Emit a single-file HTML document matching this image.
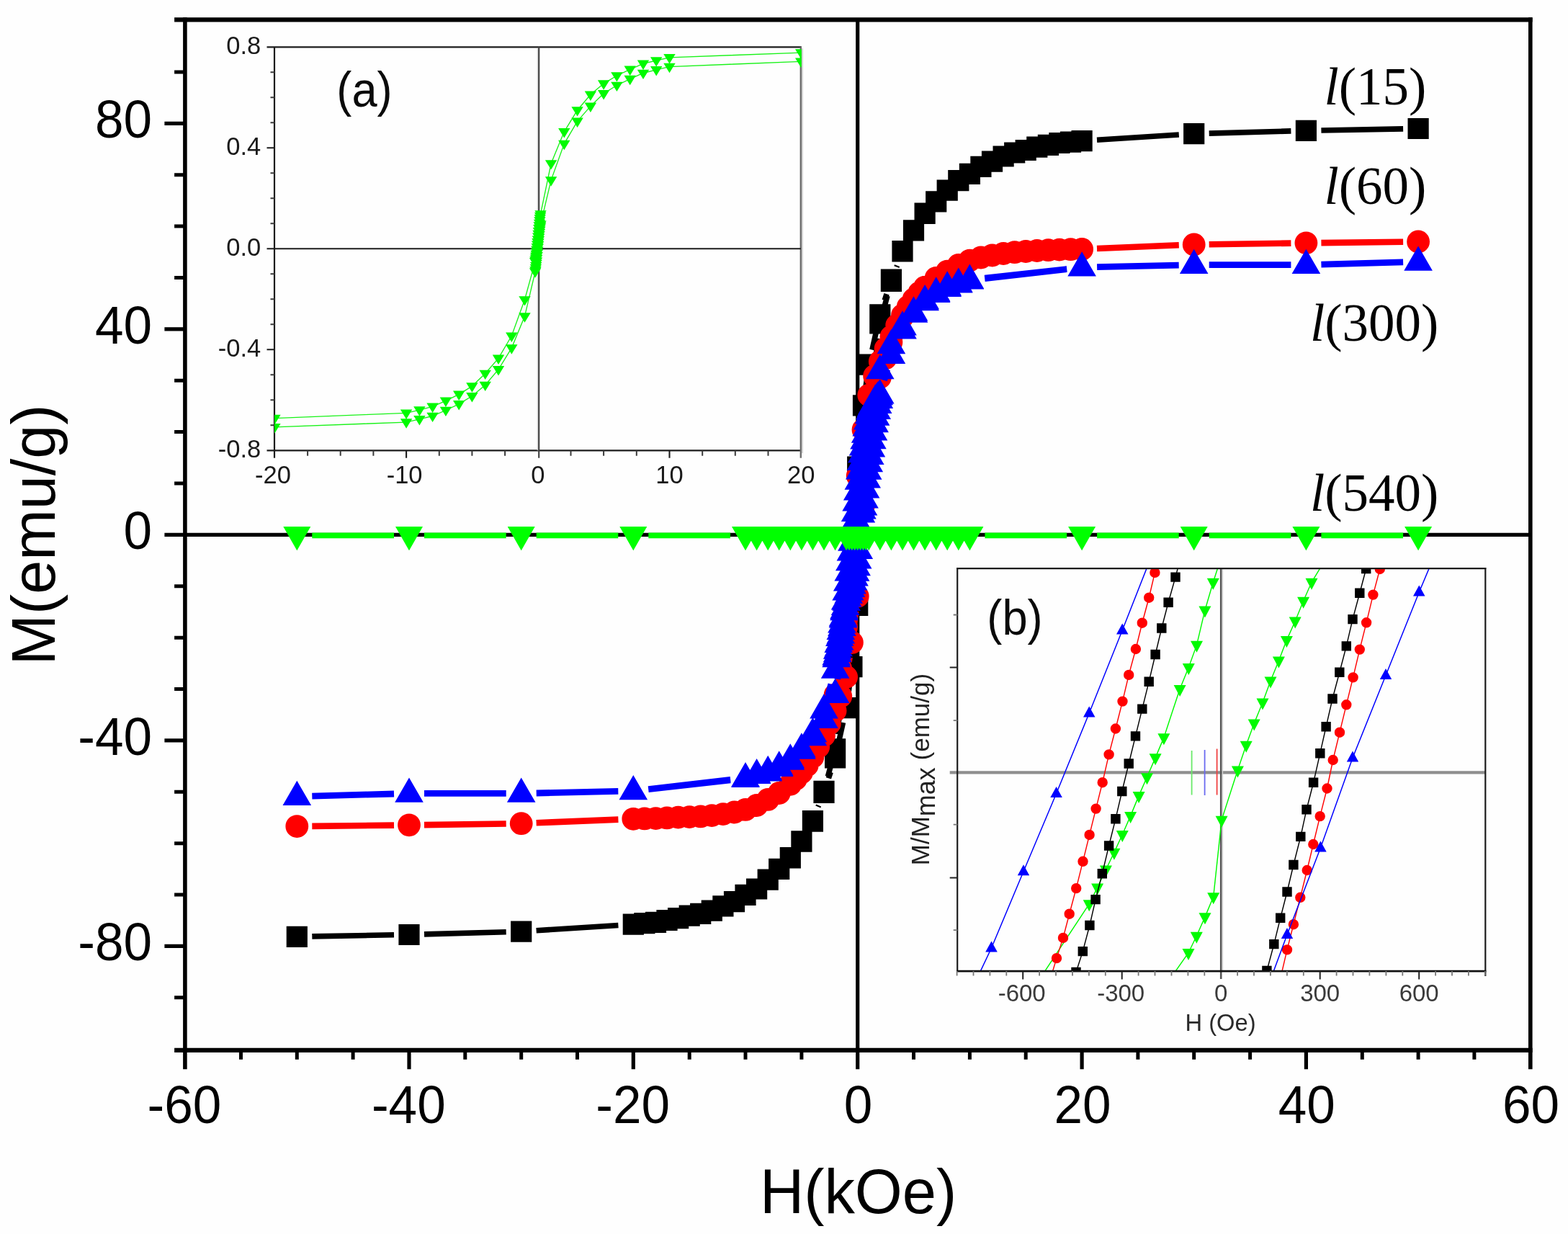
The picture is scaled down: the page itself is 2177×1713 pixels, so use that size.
<!DOCTYPE html>
<html lang="en"><head><meta charset="utf-8"><title>M-H hysteresis loops</title>
<style>html,body{margin:0;padding:0;background:#fff;}body{width:2177px;height:1713px;overflow:hidden;}svg{display:block;filter:blur(0.6px);}</style>
</head><body>
<svg width="2177" height="1713" viewBox="0 0 2177 1713" role="img" aria-label="Magnetization M versus field H hysteresis loops">
<rect x="0" y="0" width="2177" height="1713" fill="#fefefe"/>
<g id="main-axes">
<line x1="242.1" y1="27.3" x2="2127.6" y2="27.3" stroke="#000" stroke-width="6.2"/>
<line x1="242.1" y1="1457.8" x2="2127.6" y2="1457.8" stroke="#000" stroke-width="6.2"/>
<line x1="256.9" y1="24.3" x2="256.9" y2="1484.3" stroke="#000" stroke-width="5.6"/>
<line x1="2124.8" y1="24.3" x2="2124.8" y2="1484.3" stroke="#000" stroke-width="5.6"/>
<line x1="1190.7" y1="27.3" x2="1190.7" y2="1484.3" stroke="#000" stroke-width="5.2"/>
<line x1="228.4" y1="742.4" x2="2124.8" y2="742.4" stroke="#000" stroke-width="5.4"/>
<path d="M228.4 1313.4L256.9 1313.4M228.4 1027.9L256.9 1027.9M228.4 456.9L256.9 456.9M228.4 171.4L256.9 171.4M568 1457.8L568 1484.3M879.3 1457.8L879.3 1484.3M1502.1 1457.8L1502.1 1484.3M1813.4 1457.8L1813.4 1484.3" fill="none" stroke="#000" stroke-width="5.2" stroke-linecap="butt"/>
<path d="M242.1 1384.8L256.9 1384.8M242.1 1242.1L256.9 1242.1M242.1 1170.7L256.9 1170.7M242.1 1099.3L256.9 1099.3M242.1 956.5L256.9 956.5M242.1 885.2L256.9 885.2M242.1 813.8L256.9 813.8M242.1 671L256.9 671M242.1 599.6L256.9 599.6M242.1 528.3L256.9 528.3M242.1 385.5L256.9 385.5M242.1 314.1L256.9 314.1M242.1 242.7L256.9 242.7M242.1 100L256.9 100M334.5 1457.8L334.5 1470.8M412.3 1457.8L412.3 1470.8M490.1 1457.8L490.1 1470.8M645.8 1457.8L645.8 1470.8M723.7 1457.8L723.7 1470.8M801.5 1457.8L801.5 1470.8M957.2 1457.8L957.2 1470.8M1035 1457.8L1035 1470.8M1112.9 1457.8L1112.9 1470.8M1268.5 1457.8L1268.5 1470.8M1346.4 1457.8L1346.4 1470.8M1424.2 1457.8L1424.2 1470.8M1579.9 1457.8L1579.9 1470.8M1657.7 1457.8L1657.7 1470.8M1735.6 1457.8L1735.6 1470.8M1891.3 1457.8L1891.3 1470.8M1969.1 1457.8L1969.1 1470.8M2046.9 1457.8L2046.9 1470.8" fill="none" stroke="#000" stroke-width="5.0" stroke-linecap="butt"/>
</g>
<g id="main-labels" fill="#000">
<text transform="translate(211 191) scale(0.967 1)" font-size="73.5" text-anchor="end" font-family="'Liberation Sans', sans-serif">80</text>
<text transform="translate(211 476.5) scale(0.967 1)" font-size="73.5" text-anchor="end" font-family="'Liberation Sans', sans-serif">40</text>
<text transform="translate(211 762) scale(0.967 1)" font-size="73.5" text-anchor="end" font-family="'Liberation Sans', sans-serif">0</text>
<text transform="translate(211 1047.5) scale(0.967 1)" font-size="73.5" text-anchor="end" font-family="'Liberation Sans', sans-serif">-40</text>
<text transform="translate(211 1333) scale(0.967 1)" font-size="73.5" text-anchor="end" font-family="'Liberation Sans', sans-serif">-80</text>
<text transform="translate(255.9 1559) scale(0.967 1)" font-size="73.5" text-anchor="middle" font-family="'Liberation Sans', sans-serif">-60</text>
<text transform="translate(567.3 1559) scale(0.967 1)" font-size="73.5" text-anchor="middle" font-family="'Liberation Sans', sans-serif">-40</text>
<text transform="translate(878.6 1559) scale(0.967 1)" font-size="73.5" text-anchor="middle" font-family="'Liberation Sans', sans-serif">-20</text>
<text transform="translate(1191.5 1559) scale(0.967 1)" font-size="73.5" text-anchor="middle" font-family="'Liberation Sans', sans-serif">0</text>
<text transform="translate(1502.9 1559) scale(0.967 1)" font-size="73.5" text-anchor="middle" font-family="'Liberation Sans', sans-serif">20</text>
<text transform="translate(1814.2 1559) scale(0.967 1)" font-size="73.5" text-anchor="middle" font-family="'Liberation Sans', sans-serif">40</text>
<text transform="translate(2125.6 1559) scale(0.967 1)" font-size="73.5" text-anchor="middle" font-family="'Liberation Sans', sans-serif">60</text>
<text transform="translate(1191.6 1683.8) scale(0.975 1)" font-size="87" text-anchor="middle" font-family="'Liberation Sans', sans-serif">H(kOe)</text>
<text transform="translate(75.6 742.5) rotate(-90)" font-size="84.6" text-anchor="middle" font-family="'Liberation Sans', sans-serif">M(emu/g)</text>
</g>
<g id="inset-a">
<line x1="370.5" y1="65.3" x2="1112.8" y2="65.3" stroke="#1c1c1c" stroke-width="2.2"/>
<line x1="370.5" y1="625.3" x2="1112.8" y2="625.3" stroke="#1c1c1c" stroke-width="2.2"/>
<line x1="381" y1="65.3" x2="381" y2="635.8" stroke="#1c1c1c" stroke-width="2.2"/>
<line x1="1111.8" y1="65.3" x2="1111.8" y2="635.8" stroke="#6e6e6e" stroke-width="2.4"/>
<line x1="1114" y1="67.3" x2="1114" y2="629.3" stroke="#c8c8c8" stroke-width="1.6"/>
<line x1="370.5" y1="345.2" x2="1111.8" y2="345.2" stroke="#1c1c1c" stroke-width="2.0"/>
<line x1="748.2" y1="65.3" x2="748.2" y2="635.8" stroke="#444" stroke-width="2.2"/>
<line x1="746.3" y1="67.3" x2="746.3" y2="625.3" stroke="#d4d4d4" stroke-width="1.2"/>
<path d="M370.5 485.2L381 485.2M370.5 205.2L381 205.2M564.1 625.3L564.1 635.8M929.5 625.3L929.5 635.8" fill="none" stroke="#1c1c1c" stroke-width="2.1" stroke-linecap="butt"/>
<path d="M375.5 590.2L381 590.2M375.5 555.2L381 555.2M375.5 520.2L381 520.2M375.5 450.2L381 450.2M375.5 415.2L381 415.2M375.5 380.2L381 380.2M375.5 310.2L381 310.2M375.5 275.2L381 275.2M375.5 240.2L381 240.2M375.5 170.2L381 170.2M375.5 135.2L381 135.2M375.5 100.2L381 100.2M427.1 625.3L427.1 632.8M472.7 625.3L472.7 632.8M518.4 625.3L518.4 632.8M609.8 625.3L609.8 632.8M655.4 625.3L655.4 632.8M701.1 625.3L701.1 632.8M792.5 625.3L792.5 632.8M838.1 625.3L838.1 632.8M883.8 625.3L883.8 632.8M975.2 625.3L975.2 632.8M1020.8 625.3L1020.8 632.8M1066.5 625.3L1066.5 632.8" fill="none" stroke="#3a3a3a" stroke-width="2.0" stroke-linecap="butt"/>
<text x="362.3" y="75.4" font-size="34.5" text-anchor="end" font-family="'Liberation Sans', sans-serif" fill="#1a1a1a">0.8</text>
<text x="362.3" y="215.4" font-size="34.5" text-anchor="end" font-family="'Liberation Sans', sans-serif" fill="#1a1a1a">0.4</text>
<text x="362.3" y="355.4" font-size="34.5" text-anchor="end" font-family="'Liberation Sans', sans-serif" fill="#1a1a1a">0.0</text>
<text x="362.3" y="495.4" font-size="34.5" text-anchor="end" font-family="'Liberation Sans', sans-serif" fill="#1a1a1a">-0.4</text>
<text x="362.3" y="635.4" font-size="34.5" text-anchor="end" font-family="'Liberation Sans', sans-serif" fill="#1a1a1a">-0.8</text>
<text x="378.9" y="671.3" font-size="34.5" text-anchor="middle" font-family="'Liberation Sans', sans-serif" fill="#1a1a1a">-20</text>
<text x="561.6" y="671.3" font-size="34.5" text-anchor="middle" font-family="'Liberation Sans', sans-serif" fill="#1a1a1a">-10</text>
<text x="746.8" y="671.3" font-size="34.5" text-anchor="middle" font-family="'Liberation Sans', sans-serif" fill="#1a1a1a">0</text>
<text x="929.5" y="671.3" font-size="34.5" text-anchor="middle" font-family="'Liberation Sans', sans-serif" fill="#1a1a1a">10</text>
<text x="1112.2" y="671.3" font-size="34.5" text-anchor="middle" font-family="'Liberation Sans', sans-serif" fill="#1a1a1a">20</text>
<text transform="translate(506 148) scale(0.93 1)" font-size="68" text-anchor="middle" fill="#0a0a0a" font-family="'Liberation Sans', sans-serif">(a)</text>
<clipPath id="clipA"><rect x="381" y="65.3" width="731.8" height="560"/></clipPath>
<g clip-path="url(#clipA)">
<polyline points="1112.2,73.1 929.5,79.8 911.2,84 893,88.4 874.7,96.4 856.4,105 838.1,116.1 819.9,131.3 801.6,153 783.3,182.8 765.1,227 750.5,297.1 750.1,299.8 749.7,302.8 749.4,306.1 749,309.5 748.6,313.1 748.3,316.9 747.9,320.7 747.5,324.6 747.2,328.4 746.8,332.2 746.4,335.8 746.1,339.3 745.7,342.8 745.3,346.2 745,349.5 744.6,352.6 744.2,355.6 743.9,358.3 743.5,360.8 743.1,362.9 728.5,416 710.3,466.3 692,497.4 673.7,518.5 655.4,536.1 637.2,547.4 618.9,556.3 600.6,564.4 582.4,569.1 564.1,573.3 381.4,580.6" fill="none" stroke="#18f218" stroke-width="1.35"/>
<polyline points="1112.2,85.3 929.5,92.6 911.2,96.8 893,101.5 874.7,109.6 856.4,118.5 838.1,129.8 819.9,147.4 801.6,168.4 783.3,199.6 765.1,250.1 750.5,311.3 750.1,313.7 749.7,316.4 749.4,319.4 749,322.5 748.6,325.8 748.3,329.3 747.9,332.8 747.5,336.4 747.2,339.9 746.8,343.4 746.4,347.3 746.1,351.1 745.7,354.9 745.3,358.6 745,362.2 744.6,365.6 744.2,368.9 743.9,371.9 743.5,374.7 743.1,377.1 728.5,439.1 710.3,483.1 692,512.9 673.7,534.5 655.4,549.8 637.2,560.9 618.9,569.5 600.6,577.5 582.4,581.9 564.1,586.1 381.4,592.8" fill="none" stroke="#18f218" stroke-width="1.35"/>
<path d="M1112.2 81.7L1120.4 68.3L1104 68.3zM929.5 88.4L937.7 75L921.3 75zM911.2 92.6L919.4 79.2L903 79.2zM893 97L901.2 83.6L884.8 83.6zM874.7 105L882.9 91.6L866.5 91.6zM856.4 113.6L864.6 100.2L848.2 100.2zM838.1 124.7L846.4 111.3L829.9 111.3zM819.9 139.9L828.1 126.5L811.7 126.5zM801.6 161.6L809.8 148.2L793.4 148.2zM783.3 191.4L791.5 178L775.1 178zM765.1 235.6L773.3 222.2L756.9 222.2zM750.5 305.7L758.7 292.3L742.3 292.3zM750.1 308.4L758.3 295L741.9 295zM749.7 311.4L757.9 298L741.5 298zM749.4 314.7L757.6 301.3L741.2 301.3zM749 318.1L757.2 304.7L740.8 304.7zM748.6 321.7L756.8 308.3L740.4 308.3zM748.3 325.5L756.5 312.1L740.1 312.1zM747.9 329.3L756.1 315.9L739.7 315.9zM747.5 333.2L755.7 319.8L739.3 319.8zM747.2 337L755.4 323.6L739 323.6zM746.8 340.9L755 327.4L738.6 327.4zM746.4 344.4L754.6 331L738.2 331zM746.1 347.9L754.3 334.5L737.9 334.5zM745.7 351.4L753.9 338L737.5 338zM745.3 354.8L753.5 341.4L737.1 341.4zM745 358.1L753.2 344.7L736.8 344.7zM744.6 361.2L752.8 347.8L736.4 347.8zM744.2 364.2L752.4 350.8L736 350.8zM743.9 366.9L752.1 353.5L735.7 353.5zM743.5 369.4L751.7 356L735.3 356zM743.1 371.5L751.3 358.1L734.9 358.1zM728.5 424.6L736.7 411.2L720.3 411.2zM710.3 474.9L718.5 461.5L702.1 461.5zM692 506L700.2 492.6L683.8 492.6zM673.7 527.1L681.9 513.7L665.5 513.7zM655.4 544.7L663.6 531.3L647.2 531.3zM637.2 556L645.4 542.6L629 542.6zM618.9 564.9L627.1 551.5L610.7 551.5zM600.6 573L608.8 559.6L592.4 559.6zM582.4 577.7L590.6 564.3L574.2 564.3zM564.1 581.9L572.3 568.5L555.9 568.5zM381.4 589.2L389.6 575.8L373.2 575.8zM1112.2 93.9L1120.4 80.5L1104 80.5zM929.5 101.2L937.7 87.8L921.3 87.8zM911.2 105.4L919.4 92L903 92zM893 110.1L901.2 96.7L884.8 96.7zM874.7 118.2L882.9 104.8L866.5 104.8zM856.4 127.1L864.6 113.7L848.2 113.7zM838.1 138.4L846.4 125L829.9 125zM819.9 156L828.1 142.6L811.7 142.6zM801.6 177L809.8 163.6L793.4 163.6zM783.3 208.2L791.5 194.8L775.1 194.8zM765.1 258.7L773.3 245.3L756.9 245.3zM750.5 319.9L758.7 306.5L742.3 306.5zM750.1 322.3L758.3 308.9L741.9 308.9zM749.7 325L757.9 311.6L741.5 311.6zM749.4 328L757.6 314.6L741.2 314.6zM749 331.1L757.2 317.7L740.8 317.7zM748.6 334.4L756.8 321L740.4 321zM748.3 337.9L756.5 324.5L740.1 324.5zM747.9 341.4L756.1 328L739.7 328zM747.5 345L755.7 331.6L739.3 331.6zM747.2 348.5L755.4 335.1L739 335.1zM746.8 352.1L755 338.6L738.6 338.6zM746.4 355.9L754.6 342.5L738.2 342.5zM746.1 359.7L754.3 346.3L737.9 346.3zM745.7 363.5L753.9 350.1L737.5 350.1zM745.3 367.2L753.5 353.8L737.1 353.8zM745 370.8L753.2 357.4L736.8 357.4zM744.6 374.2L752.8 360.8L736.4 360.8zM744.2 377.5L752.4 364.1L736 364.1zM743.9 380.5L752.1 367.1L735.7 367.1zM743.5 383.3L751.7 369.9L735.3 369.9zM743.1 385.7L751.3 372.3L734.9 372.3zM728.5 447.7L736.7 434.3L720.3 434.3zM710.3 491.7L718.5 478.3L702.1 478.3zM692 521.5L700.2 508.1L683.8 508.1zM673.7 543.1L681.9 529.8L665.5 529.8zM655.4 558.4L663.6 545L647.2 545zM637.2 569.5L645.4 556.1L629 556.1zM618.9 578.1L627.1 564.7L610.7 564.7zM600.6 586.1L608.8 572.7L592.4 572.7zM582.4 590.5L590.6 577.1L574.2 577.1zM564.1 594.7L572.3 581.3L555.9 581.3zM381.4 601.4L389.6 588L373.2 588z" fill="#00fa00"/>
</g>
</g>
<clipPath id="clipM"><rect x="256.9" y="27.3" width="1867.9" height="1430.5"/></clipPath>
<g id="main-data">
<path d="M1948.1 178.9L1834.4 181M1792.4 181.9L1678.7 185.1M1636.8 187L1523 194.3M1231 408.2L1228.2 416.9M1217.2 457.4L1210.9 485.6M1203.4 526.9L1201.3 542.1M1196.6 583.8L1192.6 627.3M1189.7 669.2L1183.9 793.6M1181.3 835.5L1176.7 896.6M1172.5 938.3L1162.2 1018.9M1154.2 1060.1L1149.4 1078.1M1136.6 1118L1135.8 1120M858.4 1284.5L744.6 1291.8M702.7 1293.7L589 1296.9M547 1297.8L433.3 1299.9M433.3 1299.9L547 1297.8M589 1296.9L702.7 1293.7M744.6 1291.8L858.4 1284.5M1150.4 1080.4L1153.2 1071.8M1164.2 1031.3L1170.5 1003M1178 961.7L1180.1 946.5M1184.8 904.8L1188.8 861.4M1191.7 819.5L1197.5 695M1200.1 653.1L1204.7 592.1M1208.9 550.3L1219.2 469.7M1227.2 428.6L1232 410.6M1244.8 370.6L1245.6 368.6M1523 194.3L1636.8 187M1678.7 185.1L1792.4 181.9M1834.4 181L1948.1 178.9" fill="none" stroke="#000" stroke-width="7.6" stroke-linecap="butt"/>
<path d="M1954.5 163.9h29.2v29.2h-29.2zM1798.8 166.8h29.2v29.2h-29.2zM1643.1 171h29.2v29.2h-29.2zM1487.5 181h29.2v29.2h-29.2zM1471.9 182.5h29.2v29.2h-29.2zM1456.3 183.9h29.2v29.2h-29.2zM1440.8 186.7h29.2v29.2h-29.2zM1425.2 189.6h29.2v29.2h-29.2zM1409.6 193.9h29.2v29.2h-29.2zM1394.1 197.4h29.2v29.2h-29.2zM1378.5 202.4h29.2v29.2h-29.2zM1362.9 209.6h29.2v29.2h-29.2zM1347.3 216.7h29.2v29.2h-29.2zM1331.8 226.7h29.2v29.2h-29.2zM1316.2 236h29.2v29.2h-29.2zM1300.6 249.5h29.2v29.2h-29.2zM1285.1 265.2h29.2v29.2h-29.2zM1269.5 281.6h29.2v29.2h-29.2zM1253.9 305.2h29.2v29.2h-29.2zM1238.4 333.9h29.2v29.2h-29.2zM1222.8 373.6h29.2v29.2h-29.2zM1207.2 422.3h29.2v29.2h-29.2zM1191.7 491.5h29.2v29.2h-29.2zM1183.9 548.3h29.2v29.2h-29.2zM1176.1 633.6h29.2v29.2h-29.2zM1168.3 800h29.2v29.2h-29.2zM1160.5 902.9h29.2v29.2h-29.2zM1145 1025.2h29.2v29.2h-29.2zM1129.4 1083.8h29.2v29.2h-29.2zM1113.8 1125.1h29.2v29.2h-29.2zM1098.3 1153.3h29.2v29.2h-29.2zM1082.7 1176.1h29.2v29.2h-29.2zM1067.1 1191.7h29.2v29.2h-29.2zM1051.6 1206.6h29.2v29.2h-29.2zM1036 1219.4h29.2v29.2h-29.2zM1020.4 1227.8h29.2v29.2h-29.2zM1004.9 1237h29.2v29.2h-29.2zM989.3 1243.3h29.2v29.2h-29.2zM973.7 1249.6h29.2v29.2h-29.2zM958.1 1253.8h29.2v29.2h-29.2zM942.6 1256.5h29.2v29.2h-29.2zM927 1260h29.2v29.2h-29.2zM911.4 1262.9h29.2v29.2h-29.2zM895.9 1265.7h29.2v29.2h-29.2zM880.3 1267.1h29.2v29.2h-29.2zM864.7 1268.6h29.2v29.2h-29.2zM709.1 1278.6h29.2v29.2h-29.2zM553.4 1282.9h29.2v29.2h-29.2zM397.7 1285.7h29.2v29.2h-29.2zM397.7 1285.7h29.2v29.2h-29.2zM553.4 1282.9h29.2v29.2h-29.2zM709.1 1278.6h29.2v29.2h-29.2zM864.7 1268.6h29.2v29.2h-29.2zM880.3 1267.1h29.2v29.2h-29.2zM895.9 1265.7h29.2v29.2h-29.2zM911.4 1262.9h29.2v29.2h-29.2zM927 1260h29.2v29.2h-29.2zM942.6 1256.5h29.2v29.2h-29.2zM958.1 1253.8h29.2v29.2h-29.2zM973.7 1249.6h29.2v29.2h-29.2zM989.3 1243.3h29.2v29.2h-29.2zM1004.9 1237h29.2v29.2h-29.2zM1020.4 1227.8h29.2v29.2h-29.2zM1036 1219.4h29.2v29.2h-29.2zM1051.6 1206.6h29.2v29.2h-29.2zM1067.1 1191.7h29.2v29.2h-29.2zM1082.7 1176.2h29.2v29.2h-29.2zM1098.3 1153.5h29.2v29.2h-29.2zM1113.8 1125.6h29.2v29.2h-29.2zM1129.4 1085.8h29.2v29.2h-29.2zM1145 1037.2h29.2v29.2h-29.2zM1160.5 968h29.2v29.2h-29.2zM1168.3 911.1h29.2v29.2h-29.2zM1176.1 825.9h29.2v29.2h-29.2zM1183.9 659.5h29.2v29.2h-29.2zM1191.7 556.5h29.2v29.2h-29.2zM1207.2 434.3h29.2v29.2h-29.2zM1222.8 375.7h29.2v29.2h-29.2zM1238.4 334.4h29.2v29.2h-29.2zM1253.9 305.3h29.2v29.2h-29.2zM1269.5 281.7h29.2v29.2h-29.2zM1285.1 265.3h29.2v29.2h-29.2zM1300.6 249.6h29.2v29.2h-29.2zM1316.2 236h29.2v29.2h-29.2zM1331.8 226.7h29.2v29.2h-29.2zM1347.3 216.7h29.2v29.2h-29.2zM1362.9 209.6h29.2v29.2h-29.2zM1378.5 202.4h29.2v29.2h-29.2zM1394.1 197.4h29.2v29.2h-29.2zM1409.6 193.9h29.2v29.2h-29.2zM1425.2 189.6h29.2v29.2h-29.2zM1440.8 186.7h29.2v29.2h-29.2zM1456.3 183.9h29.2v29.2h-29.2zM1471.9 182.5h29.2v29.2h-29.2zM1487.5 181h29.2v29.2h-29.2zM1643.1 171h29.2v29.2h-29.2zM1798.8 166.8h29.2v29.2h-29.2zM1954.5 163.9h29.2v29.2h-29.2z" fill="#000"/>
<path d="M1948.1 335.8L1834.4 337.1M1792.4 337.6L1678.7 339.2M1636.8 340.3L1523 345M1202.9 569.4L1201.9 575.8M1196 617.3L1193.2 639.8M1189.4 681.6L1184.2 763.9M1181 805.8L1177 849.7M1172.3 891.4L1170.1 907.7M858.4 1137.6L744.6 1142.3M702.7 1143.5L589 1145.1M547 1145.6L433.3 1146.9M433.3 1146.9L547 1145.6M589 1145.1L702.7 1143.5M744.6 1142.3L858.4 1137.6M1178.5 919L1179.5 912.6M1185.4 871L1188.2 848.5M1192 806.7L1197.2 724.4M1200.4 682.6L1204.4 638.7M1209.1 596.9L1211.3 580.7M1523 345L1636.8 340.3M1678.7 339.2L1792.4 337.6M1834.4 337.1L1948.1 335.8" fill="none" stroke="#ff0000" stroke-width="8.6" stroke-linecap="butt"/>
<path d="M1953.2 335.5a15.9 15.9 0 1 0 31.8 0a15.9 15.9 0 1 0 -31.8 0zM1797.5 337.3a15.9 15.9 0 1 0 31.8 0a15.9 15.9 0 1 0 -31.8 0zM1641.8 339.5a15.9 15.9 0 1 0 31.8 0a15.9 15.9 0 1 0 -31.8 0zM1486.2 345.9a15.9 15.9 0 1 0 31.8 0a15.9 15.9 0 1 0 -31.8 0zM1470.6 346.2a15.9 15.9 0 1 0 31.8 0a15.9 15.9 0 1 0 -31.8 0zM1455 346.6a15.9 15.9 0 1 0 31.8 0a15.9 15.9 0 1 0 -31.8 0zM1439.5 347.2a15.9 15.9 0 1 0 31.8 0a15.9 15.9 0 1 0 -31.8 0zM1423.9 348a15.9 15.9 0 1 0 31.8 0a15.9 15.9 0 1 0 -31.8 0zM1408.3 349a15.9 15.9 0 1 0 31.8 0a15.9 15.9 0 1 0 -31.8 0zM1392.8 350.2a15.9 15.9 0 1 0 31.8 0a15.9 15.9 0 1 0 -31.8 0zM1377.2 352a15.9 15.9 0 1 0 31.8 0a15.9 15.9 0 1 0 -31.8 0zM1361.6 354.4a15.9 15.9 0 1 0 31.8 0a15.9 15.9 0 1 0 -31.8 0zM1346 357.5a15.9 15.9 0 1 0 31.8 0a15.9 15.9 0 1 0 -31.8 0zM1330.5 361.6a15.9 15.9 0 1 0 31.8 0a15.9 15.9 0 1 0 -31.8 0zM1314.9 368a15.9 15.9 0 1 0 31.8 0a15.9 15.9 0 1 0 -31.8 0zM1299.3 376.6a15.9 15.9 0 1 0 31.8 0a15.9 15.9 0 1 0 -31.8 0zM1283.8 385.8a15.9 15.9 0 1 0 31.8 0a15.9 15.9 0 1 0 -31.8 0zM1268.2 398.6a15.9 15.9 0 1 0 31.8 0a15.9 15.9 0 1 0 -31.8 0zM1260.4 406.5a15.9 15.9 0 1 0 31.8 0a15.9 15.9 0 1 0 -31.8 0zM1252.6 415.5a15.9 15.9 0 1 0 31.8 0a15.9 15.9 0 1 0 -31.8 0zM1244.9 425.8a15.9 15.9 0 1 0 31.8 0a15.9 15.9 0 1 0 -31.8 0zM1237.1 437.6a15.9 15.9 0 1 0 31.8 0a15.9 15.9 0 1 0 -31.8 0zM1229.3 451.7a15.9 15.9 0 1 0 31.8 0a15.9 15.9 0 1 0 -31.8 0zM1221.5 467.5a15.9 15.9 0 1 0 31.8 0a15.9 15.9 0 1 0 -31.8 0zM1213.7 484a15.9 15.9 0 1 0 31.8 0a15.9 15.9 0 1 0 -31.8 0zM1205.9 501.9a15.9 15.9 0 1 0 31.8 0a15.9 15.9 0 1 0 -31.8 0zM1198.2 521.9a15.9 15.9 0 1 0 31.8 0a15.9 15.9 0 1 0 -31.8 0zM1190.4 548.6a15.9 15.9 0 1 0 31.8 0a15.9 15.9 0 1 0 -31.8 0zM1182.6 596.5a15.9 15.9 0 1 0 31.8 0a15.9 15.9 0 1 0 -31.8 0zM1174.8 660.7a15.9 15.9 0 1 0 31.8 0a15.9 15.9 0 1 0 -31.8 0zM1167 784.9a15.9 15.9 0 1 0 31.8 0a15.9 15.9 0 1 0 -31.8 0zM1159.2 870.6a15.9 15.9 0 1 0 31.8 0a15.9 15.9 0 1 0 -31.8 0zM1151.4 928.5a15.9 15.9 0 1 0 31.8 0a15.9 15.9 0 1 0 -31.8 0zM1143.7 964.5a15.9 15.9 0 1 0 31.8 0a15.9 15.9 0 1 0 -31.8 0zM1135.9 991.1a15.9 15.9 0 1 0 31.8 0a15.9 15.9 0 1 0 -31.8 0zM1128.1 1013.5a15.9 15.9 0 1 0 31.8 0a15.9 15.9 0 1 0 -31.8 0zM1120.3 1032.5a15.9 15.9 0 1 0 31.8 0a15.9 15.9 0 1 0 -31.8 0zM1112.5 1048.6a15.9 15.9 0 1 0 31.8 0a15.9 15.9 0 1 0 -31.8 0zM1104.7 1061.2a15.9 15.9 0 1 0 31.8 0a15.9 15.9 0 1 0 -31.8 0zM1097 1071.7a15.9 15.9 0 1 0 31.8 0a15.9 15.9 0 1 0 -31.8 0zM1089.2 1080.8a15.9 15.9 0 1 0 31.8 0a15.9 15.9 0 1 0 -31.8 0zM1081.4 1088.6a15.9 15.9 0 1 0 31.8 0a15.9 15.9 0 1 0 -31.8 0zM1065.8 1101a15.9 15.9 0 1 0 31.8 0a15.9 15.9 0 1 0 -31.8 0zM1050.3 1109.9a15.9 15.9 0 1 0 31.8 0a15.9 15.9 0 1 0 -31.8 0zM1034.7 1118a15.9 15.9 0 1 0 31.8 0a15.9 15.9 0 1 0 -31.8 0zM1019.1 1123.9a15.9 15.9 0 1 0 31.8 0a15.9 15.9 0 1 0 -31.8 0zM1003.6 1127.5a15.9 15.9 0 1 0 31.8 0a15.9 15.9 0 1 0 -31.8 0zM988 1130.1a15.9 15.9 0 1 0 31.8 0a15.9 15.9 0 1 0 -31.8 0zM972.4 1132.1a15.9 15.9 0 1 0 31.8 0a15.9 15.9 0 1 0 -31.8 0zM956.8 1133.4a15.9 15.9 0 1 0 31.8 0a15.9 15.9 0 1 0 -31.8 0zM941.3 1134.1a15.9 15.9 0 1 0 31.8 0a15.9 15.9 0 1 0 -31.8 0zM925.7 1134.6a15.9 15.9 0 1 0 31.8 0a15.9 15.9 0 1 0 -31.8 0zM910.1 1135.4a15.9 15.9 0 1 0 31.8 0a15.9 15.9 0 1 0 -31.8 0zM894.6 1136.1a15.9 15.9 0 1 0 31.8 0a15.9 15.9 0 1 0 -31.8 0zM879 1136.4a15.9 15.9 0 1 0 31.8 0a15.9 15.9 0 1 0 -31.8 0zM863.4 1136.8a15.9 15.9 0 1 0 31.8 0a15.9 15.9 0 1 0 -31.8 0zM707.8 1143.2a15.9 15.9 0 1 0 31.8 0a15.9 15.9 0 1 0 -31.8 0zM552.1 1145.3a15.9 15.9 0 1 0 31.8 0a15.9 15.9 0 1 0 -31.8 0zM396.4 1147.1a15.9 15.9 0 1 0 31.8 0a15.9 15.9 0 1 0 -31.8 0zM396.4 1147.1a15.9 15.9 0 1 0 31.8 0a15.9 15.9 0 1 0 -31.8 0zM552.1 1145.3a15.9 15.9 0 1 0 31.8 0a15.9 15.9 0 1 0 -31.8 0zM707.8 1143.2a15.9 15.9 0 1 0 31.8 0a15.9 15.9 0 1 0 -31.8 0zM863.4 1136.8a15.9 15.9 0 1 0 31.8 0a15.9 15.9 0 1 0 -31.8 0zM879 1136.4a15.9 15.9 0 1 0 31.8 0a15.9 15.9 0 1 0 -31.8 0zM894.6 1136.1a15.9 15.9 0 1 0 31.8 0a15.9 15.9 0 1 0 -31.8 0zM910.1 1135.4a15.9 15.9 0 1 0 31.8 0a15.9 15.9 0 1 0 -31.8 0zM925.7 1134.6a15.9 15.9 0 1 0 31.8 0a15.9 15.9 0 1 0 -31.8 0zM941.3 1134.1a15.9 15.9 0 1 0 31.8 0a15.9 15.9 0 1 0 -31.8 0zM956.8 1133.4a15.9 15.9 0 1 0 31.8 0a15.9 15.9 0 1 0 -31.8 0zM972.4 1132.1a15.9 15.9 0 1 0 31.8 0a15.9 15.9 0 1 0 -31.8 0zM988 1130.1a15.9 15.9 0 1 0 31.8 0a15.9 15.9 0 1 0 -31.8 0zM1003.6 1127.5a15.9 15.9 0 1 0 31.8 0a15.9 15.9 0 1 0 -31.8 0zM1019.1 1123.9a15.9 15.9 0 1 0 31.8 0a15.9 15.9 0 1 0 -31.8 0zM1034.7 1118a15.9 15.9 0 1 0 31.8 0a15.9 15.9 0 1 0 -31.8 0zM1050.3 1109.9a15.9 15.9 0 1 0 31.8 0a15.9 15.9 0 1 0 -31.8 0zM1065.8 1101.1a15.9 15.9 0 1 0 31.8 0a15.9 15.9 0 1 0 -31.8 0zM1081.4 1088.8a15.9 15.9 0 1 0 31.8 0a15.9 15.9 0 1 0 -31.8 0zM1089.2 1081.2a15.9 15.9 0 1 0 31.8 0a15.9 15.9 0 1 0 -31.8 0zM1097 1072.4a15.9 15.9 0 1 0 31.8 0a15.9 15.9 0 1 0 -31.8 0zM1104.7 1062.4a15.9 15.9 0 1 0 31.8 0a15.9 15.9 0 1 0 -31.8 0zM1112.5 1050.8a15.9 15.9 0 1 0 31.8 0a15.9 15.9 0 1 0 -31.8 0zM1120.3 1036.7a15.9 15.9 0 1 0 31.8 0a15.9 15.9 0 1 0 -31.8 0zM1128.1 1020.9a15.9 15.9 0 1 0 31.8 0a15.9 15.9 0 1 0 -31.8 0zM1135.9 1004.4a15.9 15.9 0 1 0 31.8 0a15.9 15.9 0 1 0 -31.8 0zM1143.7 986.5a15.9 15.9 0 1 0 31.8 0a15.9 15.9 0 1 0 -31.8 0zM1151.4 966.4a15.9 15.9 0 1 0 31.8 0a15.9 15.9 0 1 0 -31.8 0zM1159.2 939.7a15.9 15.9 0 1 0 31.8 0a15.9 15.9 0 1 0 -31.8 0zM1167 891.9a15.9 15.9 0 1 0 31.8 0a15.9 15.9 0 1 0 -31.8 0zM1174.8 827.7a15.9 15.9 0 1 0 31.8 0a15.9 15.9 0 1 0 -31.8 0zM1182.6 703.5a15.9 15.9 0 1 0 31.8 0a15.9 15.9 0 1 0 -31.8 0zM1190.4 617.8a15.9 15.9 0 1 0 31.8 0a15.9 15.9 0 1 0 -31.8 0zM1198.2 559.9a15.9 15.9 0 1 0 31.8 0a15.9 15.9 0 1 0 -31.8 0zM1205.9 523.9a15.9 15.9 0 1 0 31.8 0a15.9 15.9 0 1 0 -31.8 0zM1213.7 497.3a15.9 15.9 0 1 0 31.8 0a15.9 15.9 0 1 0 -31.8 0zM1221.5 474.9a15.9 15.9 0 1 0 31.8 0a15.9 15.9 0 1 0 -31.8 0zM1229.3 455.9a15.9 15.9 0 1 0 31.8 0a15.9 15.9 0 1 0 -31.8 0zM1237.1 439.8a15.9 15.9 0 1 0 31.8 0a15.9 15.9 0 1 0 -31.8 0zM1244.9 426.9a15.9 15.9 0 1 0 31.8 0a15.9 15.9 0 1 0 -31.8 0zM1252.6 416.2a15.9 15.9 0 1 0 31.8 0a15.9 15.9 0 1 0 -31.8 0zM1260.4 406.9a15.9 15.9 0 1 0 31.8 0a15.9 15.9 0 1 0 -31.8 0zM1268.2 398.8a15.9 15.9 0 1 0 31.8 0a15.9 15.9 0 1 0 -31.8 0zM1283.8 385.9a15.9 15.9 0 1 0 31.8 0a15.9 15.9 0 1 0 -31.8 0zM1299.3 376.6a15.9 15.9 0 1 0 31.8 0a15.9 15.9 0 1 0 -31.8 0zM1314.9 368a15.9 15.9 0 1 0 31.8 0a15.9 15.9 0 1 0 -31.8 0zM1330.5 361.6a15.9 15.9 0 1 0 31.8 0a15.9 15.9 0 1 0 -31.8 0zM1346 357.5a15.9 15.9 0 1 0 31.8 0a15.9 15.9 0 1 0 -31.8 0zM1361.6 354.5a15.9 15.9 0 1 0 31.8 0a15.9 15.9 0 1 0 -31.8 0zM1377.2 352a15.9 15.9 0 1 0 31.8 0a15.9 15.9 0 1 0 -31.8 0zM1392.8 350.2a15.9 15.9 0 1 0 31.8 0a15.9 15.9 0 1 0 -31.8 0zM1408.3 349a15.9 15.9 0 1 0 31.8 0a15.9 15.9 0 1 0 -31.8 0zM1423.9 348a15.9 15.9 0 1 0 31.8 0a15.9 15.9 0 1 0 -31.8 0zM1439.5 347.2a15.9 15.9 0 1 0 31.8 0a15.9 15.9 0 1 0 -31.8 0zM1455 346.6a15.9 15.9 0 1 0 31.8 0a15.9 15.9 0 1 0 -31.8 0zM1470.6 346.2a15.9 15.9 0 1 0 31.8 0a15.9 15.9 0 1 0 -31.8 0zM1486.2 345.9a15.9 15.9 0 1 0 31.8 0a15.9 15.9 0 1 0 -31.8 0zM1641.8 339.5a15.9 15.9 0 1 0 31.8 0a15.9 15.9 0 1 0 -31.8 0zM1797.5 337.3a15.9 15.9 0 1 0 31.8 0a15.9 15.9 0 1 0 -31.8 0zM1953.2 335.5a15.9 15.9 0 1 0 31.8 0a15.9 15.9 0 1 0 -31.8 0z" fill="#ff0000"/>
<path d="M1948.1 363.9L1834.4 367.1M1792.4 367.7L1678.7 367.7M1636.7 368.1L1523.1 370.7M1481.2 373.5L1367.3 386.1M1218.7 534.8L1162.7 908.6M1153.9 949.6L1149.7 964.9M1014.2 1082.4L900.2 1095.5M858.3 1098.4L744.7 1101M702.7 1101.4L589 1101.4M547 1102L433.3 1105.1M433.3 1105.1L547 1102M589 1101.4L702.7 1101.4M744.7 1101L858.3 1098.4M900.2 1095.6L1014.1 1083M1162.7 942.9L1218.7 569M1227.5 528L1231.7 512.8M1367.2 386.7L1481.2 373.6M1523.1 370.7L1636.7 368.1M1678.7 367.7L1792.4 367.7M1834.4 367.1L1948.1 363.9" fill="none" stroke="#0000ff" stroke-width="8.8" stroke-linecap="butt"/>
<path d="M1969.1 341.4L1988.9 375.7L1949.3 375.7zM1813.4 345.7L1833.2 380L1793.6 380zM1657.7 345.7L1677.5 380L1637.9 380zM1502.1 349.2L1521.9 383.5L1482.3 383.5zM1346.4 366.4L1366.2 400.7L1326.6 400.7zM1330.8 371.4L1350.6 405.7L1311 405.7zM1315.2 376.3L1335 410.6L1295.4 410.6zM1299.7 384.2L1319.5 418.5L1279.9 418.5zM1284.1 394.9L1303.9 429.2L1264.3 429.2zM1268.5 411.3L1288.3 445.6L1248.7 445.6zM1253 431.3L1272.8 465.6L1233.2 465.6zM1237.4 457L1257.2 491.3L1217.6 491.3zM1221.8 492L1241.6 526.3L1202 526.3zM1159.6 907.4L1179.4 941.7L1139.8 941.7zM1144 963.1L1163.8 997.4L1124.2 997.4zM1128.4 995.9L1148.2 1030.2L1108.6 1030.2zM1112.9 1017.3L1132.7 1051.6L1093.1 1051.6zM1097.3 1032.3L1117.1 1066.6L1077.5 1066.6zM1081.7 1042.3L1101.5 1076.6L1061.9 1076.6zM1066.2 1048.7L1086 1083L1046.4 1083zM1050.6 1053L1070.4 1087.3L1030.8 1087.3zM1035 1058L1054.8 1092.3L1015.2 1092.3zM879.3 1075.9L899.1 1110.2L859.5 1110.2zM723.7 1079.4L743.5 1113.7L703.9 1113.7zM568 1079.4L587.8 1113.7L548.2 1113.7zM412.3 1083.7L432.1 1118L392.5 1118zM412.3 1083.7L432.1 1118L392.5 1118zM568 1079.4L587.8 1113.7L548.2 1113.7zM723.7 1079.4L743.5 1113.7L703.9 1113.7zM879.3 1075.9L899.1 1110.2L859.5 1110.2zM1035 1058.7L1054.8 1093L1015.2 1093zM1050.6 1053.7L1070.4 1088L1030.8 1088zM1066.2 1050.2L1086 1084.5L1046.4 1084.5zM1081.7 1043.8L1101.5 1078.1L1061.9 1078.1zM1097.3 1034.5L1117.1 1068.8L1077.5 1068.8zM1112.9 1019.5L1132.7 1053.8L1093.1 1053.8zM1128.4 1000.9L1148.2 1035.2L1108.6 1035.2zM1144 976.7L1163.8 1011L1124.2 1011zM1159.6 941.7L1179.4 976L1139.8 976zM1221.8 526.2L1241.6 560.5L1202 560.5zM1237.4 470.6L1257.2 504.9L1217.6 504.9zM1253 436.3L1272.8 470.6L1233.2 470.6zM1268.5 413.5L1288.3 447.8L1248.7 447.8zM1284.1 397L1303.9 431.3L1264.3 431.3zM1299.7 385.6L1319.5 419.9L1279.9 419.9zM1315.2 377.8L1335 412.1L1295.4 412.1zM1330.8 372.1L1350.6 406.4L1311 406.4zM1346.4 367.1L1366.2 401.4L1326.6 401.4zM1502.1 349.2L1521.9 383.5L1482.3 383.5zM1657.7 345.7L1677.5 380L1637.9 380zM1813.4 345.7L1833.2 380L1793.6 380zM1969.1 341.4L1988.9 375.7L1949.3 375.7z" fill="#0000ff"/>
<path d="M1220.3 527.9L1240.1 562.2L1200.5 562.2zM1218.7 529.5L1238.5 563.8L1198.9 563.8zM1217.2 531.3L1237 565.6L1197.4 565.6zM1215.6 533.4L1235.4 567.7L1195.8 567.7zM1214.1 535.6L1233.9 569.9L1194.3 569.9zM1212.5 538.1L1232.3 572.4L1192.7 572.4zM1210.9 540.9L1230.7 575.2L1191.1 575.2zM1209.4 544.3L1229.2 578.6L1189.6 578.6zM1207.8 548.3L1227.6 582.6L1188 582.6zM1206.3 554L1226.1 588.3L1186.5 588.3zM1204.7 562.1L1224.5 596.4L1184.9 596.4zM1203.2 571.3L1223 605.6L1183.4 605.6zM1201.6 580.5L1221.4 614.8L1181.8 614.8zM1200 589.3L1219.8 623.6L1180.2 623.6zM1198.5 598.3L1218.3 632.6L1178.7 632.6zM1196.9 608L1216.7 642.3L1177.1 642.3zM1195.4 618.8L1215.2 653.1L1175.6 653.1zM1193.8 631.3L1213.6 665.6L1174 665.6zM1192.3 645.4L1212.1 679.7L1172.5 679.7zM1190.7 660.3L1210.5 694.6L1170.9 694.6zM1189.1 675.3L1208.9 709.6L1169.3 709.6zM1187.6 689.7L1207.4 724L1167.8 724zM1186 703.4L1205.8 737.7L1166.2 737.7zM1184.5 717L1204.3 751.3L1164.7 751.3zM1182.9 730.5L1202.7 764.8L1163.1 764.8zM1181.4 744.1L1201.2 778.4L1161.6 778.4zM1179.8 758L1199.6 792.3L1160 792.3zM1178.2 772.2L1198 806.5L1158.4 806.5zM1176.7 786.2L1196.5 820.5L1156.9 820.5zM1175.1 799.3L1194.9 833.6L1155.3 833.6zM1173.6 812.2L1193.4 846.5L1153.8 846.5zM1172 824.9L1191.8 859.2L1152.2 859.2zM1170.5 837.1L1190.3 871.4L1150.7 871.4zM1168.9 848.6L1188.7 882.9L1149.1 882.9zM1167.3 859.1L1187.1 893.4L1147.5 893.4zM1165.8 868.4L1185.6 902.7L1146 902.7zM1164.2 876.9L1184 911.2L1144.4 911.2zM1162.7 884.8L1182.5 919.1L1142.9 919.1zM1161.1 891.9L1180.9 926.2L1141.3 926.2zM1161.1 889.3L1180.9 923.6L1141.3 923.6zM1162.7 880.4L1182.5 914.7L1142.9 914.7zM1164.2 871.7L1184 906L1144.4 906zM1165.8 862.8L1185.6 897.1L1146 897.1zM1167.3 853.6L1187.1 887.9L1147.5 887.9zM1168.9 844.3L1188.7 878.6L1149.1 878.6zM1170.5 835.3L1190.3 869.6L1150.7 869.6zM1172 826.9L1191.8 861.2L1152.2 861.2zM1173.6 819.6L1193.4 853.9L1153.8 853.9zM1175.1 813.4L1194.9 847.7L1155.3 847.7zM1176.7 808.1L1196.5 842.4L1156.9 842.4zM1178.2 803.5L1198 837.8L1158.4 837.8zM1179.8 799.1L1199.6 833.4L1160 833.4zM1181.4 794.8L1201.2 829.1L1161.6 829.1zM1182.9 790.2L1202.7 824.5L1163.1 824.5zM1184.5 785.2L1204.3 819.5L1164.7 819.5zM1186 779.3L1205.8 813.6L1166.2 813.6zM1187.6 772.5L1207.4 806.8L1167.8 806.8zM1189.1 765L1208.9 799.3L1169.3 799.3zM1190.7 755.3L1210.5 789.6L1170.9 789.6zM1192.3 741.8L1212.1 776.1L1172.5 776.1zM1193.8 708L1213.6 742.3L1174 742.3zM1195.4 691.2L1215.2 725.5L1175.6 725.5zM1196.9 686.3L1216.7 720.6L1177.1 720.6zM1198.5 681.2L1218.3 715.5L1178.7 715.5zM1200 671.1L1219.8 705.4L1180.2 705.4zM1201.6 657.3L1221.4 691.6L1181.8 691.6zM1203.2 643.3L1223 677.6L1183.4 677.6zM1204.7 631.5L1224.5 665.8L1184.9 665.8zM1206.3 620.9L1226.1 655.2L1186.5 655.2zM1207.8 610.6L1227.6 644.9L1188 644.9zM1209.4 600.1L1229.2 634.4L1189.6 634.4zM1210.9 589L1230.7 623.3L1191.1 623.3zM1212.5 577.2L1232.3 611.5L1192.7 611.5zM1214.1 566L1233.9 600.3L1194.3 600.3zM1215.6 556.4L1235.4 590.7L1195.8 590.7zM1217.2 547.8L1237 582.1L1197.4 582.1zM1218.7 539.8L1238.5 574.1L1198.9 574.1zM1220.3 532.7L1240.1 567L1200.5 567z" fill="#0000ff"/>
<path d="M1948.1 743.3L1834.4 743.3M1792.4 743.3L1678.7 743.3M1636.7 743.3L1523.1 743.3M1481.1 743.3L1367.4 743.3M1014 743.3L900.3 743.3M858.3 743.3L744.7 743.3M702.7 743.3L589 743.3M547 743.3L433.3 743.3" fill="none" stroke="#00ff00" stroke-width="7.8" stroke-linecap="butt"/>
<path d="M1969.1 764.3L1988.1 731L1950.1 731zM1813.4 764.3L1832.4 731L1794.4 731zM1657.7 764.3L1676.7 731L1638.7 731zM1502.1 764.3L1521.1 731L1483.1 731zM1346.4 764.3L1365.4 731L1327.4 731zM1330.8 764.3L1349.8 731L1311.8 731zM1315.2 764.3L1334.2 731L1296.2 731zM1299.7 764.3L1318.7 731L1280.7 731zM1284.1 764.3L1303.1 731L1265.1 731zM1268.5 764.3L1287.5 731L1249.5 731zM1253 764.3L1272 731L1234 731zM1237.4 764.3L1256.4 731L1218.4 731zM1221.8 764.3L1240.8 731L1202.8 731zM1206.3 764.3L1225.3 731L1187.3 731zM1202.4 764.3L1221.4 731L1183.4 731zM1198.5 764.3L1217.5 731L1179.5 731zM1194.6 764.3L1213.6 731L1175.6 731zM1190.7 764.3L1209.7 731L1171.7 731zM1186.8 764.3L1205.8 731L1167.8 731zM1182.9 764.3L1201.9 731L1163.9 731zM1179 764.3L1198 731L1160 731zM1175.1 764.3L1194.1 731L1156.1 731zM1159.6 764.3L1178.6 731L1140.6 731zM1144 764.3L1163 731L1125 731zM1128.4 764.3L1147.4 731L1109.4 731zM1112.9 764.3L1131.9 731L1093.9 731zM1097.3 764.3L1116.3 731L1078.3 731zM1081.7 764.3L1100.7 731L1062.7 731zM1066.2 764.3L1085.2 731L1047.2 731zM1050.6 764.3L1069.6 731L1031.6 731zM1035 764.3L1054 731L1016 731zM879.3 764.3L898.3 731L860.3 731zM723.7 764.3L742.7 731L704.7 731zM568 764.3L587 731L549 731zM412.3 764.3L431.3 731L393.3 731z" fill="#00ff00"/>
</g>
<g id="curve-labels" fill="#000">
<text x="1838.5" y="145.4" font-size="73" font-family="'Liberation Serif', serif"><tspan font-style="italic">l</tspan>(15)</text>
<text x="1838.5" y="282.8" font-size="73" font-family="'Liberation Serif', serif"><tspan font-style="italic">l</tspan>(60)</text>
<text x="1819" y="473.3" font-size="73" font-family="'Liberation Serif', serif"><tspan font-style="italic">l</tspan>(300)</text>
<text x="1819" y="708.9" font-size="73" font-family="'Liberation Serif', serif"><tspan font-style="italic">l</tspan>(540)</text>
</g>
<g id="inset-b">
<rect x="1329.2" y="789.1" width="733.1" height="559" fill="#fefefe"/>
<clipPath id="clipB"><rect x="1329.2" y="789.1" width="733.1" height="560"/></clipPath>
<line x1="1318.7" y1="1072.4" x2="2062.3" y2="1072.4" stroke="#8e8e8e" stroke-width="4.2"/>
<line x1="1695.2" y1="789.1" x2="1695.2" y2="1359.1" stroke="#555" stroke-width="2.6"/>
<line x1="1697.4" y1="789.1" x2="1697.4" y2="1348.1" stroke="#cfcfcf" stroke-width="1.4"/>
<line x1="1654.6" y1="1042" x2="1654.6" y2="1103.5" stroke="#6aea6a" stroke-width="1.8"/>
<line x1="1672.6" y1="1041" x2="1672.6" y2="1104" stroke="#6a6af0" stroke-width="1.8"/>
<line x1="1689.6" y1="1039.5" x2="1689.6" y2="1103.5" stroke="#f04040" stroke-width="1.8"/>
<g clip-path="url(#clipB)">
<polyline points="1691.5,786 1684.3,808.3 1672.9,847.2 1661.5,895.4 1650.3,926.5 1638.1,956.6 1627,990 1615.9,1023.9 1604.1,1051.9 1592.5,1078.8 1581.1,1104.6 1569.6,1132.6 1558.3,1158.5 1546.9,1183.3 1535.4,1207.2 1523.6,1232 1512.2,1254.9 1449.5,1350" fill="none" stroke="#00fa00" stroke-width="1.45"/>
<path d="M1684.3 818.7L1692.8 802.7L1675.8 802.7zM1672.9 857.6L1681.4 841.6L1664.4 841.6zM1661.5 905.8L1670 889.8L1653 889.8zM1650.3 936.9L1658.8 920.9L1641.8 920.9zM1638.1 967L1646.6 951L1629.6 951zM1615.9 1034.3L1624.4 1018.3L1607.4 1018.3zM1604.1 1062.3L1612.6 1046.3L1595.6 1046.3zM1592.5 1089.2L1601 1073.2L1584 1073.2zM1581.1 1115L1589.6 1099L1572.6 1099zM1569.6 1143L1578.1 1127L1561.1 1127zM1558.3 1168.9L1566.8 1152.9L1549.8 1152.9zM1546.9 1193.7L1555.4 1177.7L1538.4 1177.7zM1535.4 1217.6L1543.9 1201.6L1526.9 1201.6zM1523.6 1242.4L1532.1 1226.4L1515.1 1226.4zM1512.2 1265.3L1520.7 1249.3L1503.7 1249.3z" fill="#00fa00"/>
</g>
<g clip-path="url(#clipB)">
<polyline points="1834.5,786 1821,808.3 1809.6,834.3 1798.2,862.2 1786.4,888.6 1775.4,917.2 1764,945.2 1753,975.2 1741.2,1004.2 1730.2,1034.3 1718.4,1069 1696.1,1138.4 1684.7,1244.8 1673,1272.9 1661.3,1299.3 1650,1322.7 1630.8,1350" fill="none" stroke="#00fa00" stroke-width="1.45"/>
<path d="M1821 818.7L1829.5 802.7L1812.5 802.7zM1809.6 844.7L1818.1 828.7L1801.1 828.7zM1798.2 872.6L1806.7 856.6L1789.7 856.6zM1786.4 899L1794.9 883L1777.9 883zM1775.4 927.6L1783.9 911.6L1766.9 911.6zM1764 955.6L1772.5 939.6L1755.5 939.6zM1753 985.6L1761.5 969.6L1744.5 969.6zM1741.2 1014.6L1749.7 998.6L1732.7 998.6zM1730.2 1044.7L1738.7 1028.7L1721.7 1028.7zM1718.4 1079.4L1726.9 1063.4L1709.9 1063.4zM1696.1 1148.8L1704.6 1132.8L1687.6 1132.8zM1684.7 1255.2L1693.2 1239.2L1676.2 1239.2zM1673 1283.3L1681.5 1267.3L1664.5 1267.3zM1661.3 1309.7L1669.8 1293.7L1652.8 1293.7zM1650 1333.1L1658.5 1317.1L1641.5 1317.1z" fill="#00fa00"/>
</g>
<g clip-path="url(#clipB)">
<polyline points="1636,786 1632,801.1 1622.1,836.3 1612.8,872 1604.1,908.5 1595.2,946.2 1585.8,984.1 1576.5,1021.9 1567.2,1060 1557.8,1098.5 1548.9,1136.7 1539.6,1174 1530.3,1212.8 1521.1,1248.6 1512.9,1284.5 1503.3,1320.6 1494,1349.5" fill="none" stroke="#000" stroke-width="1.45"/>
<path d="M1625.3 794.4h13.4v13.4h-13.4zM1615.4 829.6h13.4v13.4h-13.4zM1606.1 865.3h13.4v13.4h-13.4zM1597.4 901.8h13.4v13.4h-13.4zM1588.5 939.5h13.4v13.4h-13.4zM1579.1 977.4h13.4v13.4h-13.4zM1569.8 1015.2h13.4v13.4h-13.4zM1560.5 1053.3h13.4v13.4h-13.4zM1551.1 1091.8h13.4v13.4h-13.4zM1542.2 1130h13.4v13.4h-13.4zM1532.9 1167.3h13.4v13.4h-13.4zM1523.6 1206.1h13.4v13.4h-13.4zM1514.4 1241.9h13.4v13.4h-13.4zM1506.2 1277.8h13.4v13.4h-13.4zM1496.6 1313.9h13.4v13.4h-13.4zM1487.3 1342.8h13.4v13.4h-13.4z" fill="#000"/>
</g>
<g clip-path="url(#clipB)">
<polyline points="1896.7,789.5 1887.8,823.3 1878,859.6 1869.3,896.9 1859.8,933.3 1850,970 1841.1,1008.8 1832.8,1045.7 1823.6,1086.3 1814,1123.7 1805.8,1161.4 1795.9,1200.5 1787,1238 1777.7,1274.3 1768.8,1310.6 1758.9,1347.5 1756,1359" fill="none" stroke="#000" stroke-width="1.45"/>
<path d="M1890 782.8h13.4v13.4h-13.4zM1881.1 816.6h13.4v13.4h-13.4zM1871.3 852.9h13.4v13.4h-13.4zM1862.6 890.2h13.4v13.4h-13.4zM1853.1 926.6h13.4v13.4h-13.4zM1843.3 963.3h13.4v13.4h-13.4zM1834.4 1002.1h13.4v13.4h-13.4zM1826.1 1039h13.4v13.4h-13.4zM1816.9 1079.6h13.4v13.4h-13.4zM1807.3 1117h13.4v13.4h-13.4zM1799.1 1154.7h13.4v13.4h-13.4zM1789.2 1193.8h13.4v13.4h-13.4zM1780.3 1231.3h13.4v13.4h-13.4zM1771 1267.6h13.4v13.4h-13.4zM1762.1 1303.9h13.4v13.4h-13.4zM1752.2 1340.8h13.4v13.4h-13.4z" fill="#000"/>
</g>
<g clip-path="url(#clipB)">
<polyline points="1605.5,786 1603.4,794.9 1595.2,829.7 1585.8,864.7 1576.9,901 1567.2,936.9 1558.5,973.6 1548.9,1011.5 1539.6,1047.4 1530.7,1086.2 1521.6,1122.6 1512.6,1158.9 1503.5,1195.8 1494.2,1233.1 1484.7,1268.7 1476,1301.9 1467,1330.1 1461,1350" fill="none" stroke="#ff0000" stroke-width="1.45"/>
<path d="M1596.2 794.9a7.2 7.2 0 1 0 14.4 0a7.2 7.2 0 1 0 -14.4 0zM1588 829.7a7.2 7.2 0 1 0 14.4 0a7.2 7.2 0 1 0 -14.4 0zM1578.6 864.7a7.2 7.2 0 1 0 14.4 0a7.2 7.2 0 1 0 -14.4 0zM1569.7 901a7.2 7.2 0 1 0 14.4 0a7.2 7.2 0 1 0 -14.4 0zM1560 936.9a7.2 7.2 0 1 0 14.4 0a7.2 7.2 0 1 0 -14.4 0zM1551.3 973.6a7.2 7.2 0 1 0 14.4 0a7.2 7.2 0 1 0 -14.4 0zM1541.7 1011.5a7.2 7.2 0 1 0 14.4 0a7.2 7.2 0 1 0 -14.4 0zM1532.4 1047.4a7.2 7.2 0 1 0 14.4 0a7.2 7.2 0 1 0 -14.4 0zM1523.5 1086.2a7.2 7.2 0 1 0 14.4 0a7.2 7.2 0 1 0 -14.4 0zM1514.4 1122.6a7.2 7.2 0 1 0 14.4 0a7.2 7.2 0 1 0 -14.4 0zM1505.4 1158.9a7.2 7.2 0 1 0 14.4 0a7.2 7.2 0 1 0 -14.4 0zM1496.3 1195.8a7.2 7.2 0 1 0 14.4 0a7.2 7.2 0 1 0 -14.4 0zM1487 1233.1a7.2 7.2 0 1 0 14.4 0a7.2 7.2 0 1 0 -14.4 0zM1477.5 1268.7a7.2 7.2 0 1 0 14.4 0a7.2 7.2 0 1 0 -14.4 0zM1468.8 1301.9a7.2 7.2 0 1 0 14.4 0a7.2 7.2 0 1 0 -14.4 0zM1459.8 1330.1a7.2 7.2 0 1 0 14.4 0a7.2 7.2 0 1 0 -14.4 0z" fill="#ff0000"/>
</g>
<g clip-path="url(#clipB)">
<polyline points="1915.8,790 1906.4,825.6 1897.1,864.3 1887.8,901.6 1878.6,940.4 1869.3,978.3 1860,1016.7 1850.7,1055 1842.5,1094.5 1832.7,1133.1 1823.3,1172 1814.7,1208 1805.3,1245.8 1795.9,1283.2 1787,1318.4 1779.6,1350" fill="none" stroke="#ff0000" stroke-width="1.45"/>
<path d="M1908.6 790a7.2 7.2 0 1 0 14.4 0a7.2 7.2 0 1 0 -14.4 0zM1899.2 825.6a7.2 7.2 0 1 0 14.4 0a7.2 7.2 0 1 0 -14.4 0zM1889.9 864.3a7.2 7.2 0 1 0 14.4 0a7.2 7.2 0 1 0 -14.4 0zM1880.6 901.6a7.2 7.2 0 1 0 14.4 0a7.2 7.2 0 1 0 -14.4 0zM1871.4 940.4a7.2 7.2 0 1 0 14.4 0a7.2 7.2 0 1 0 -14.4 0zM1862.1 978.3a7.2 7.2 0 1 0 14.4 0a7.2 7.2 0 1 0 -14.4 0zM1852.8 1016.7a7.2 7.2 0 1 0 14.4 0a7.2 7.2 0 1 0 -14.4 0zM1843.5 1055a7.2 7.2 0 1 0 14.4 0a7.2 7.2 0 1 0 -14.4 0zM1835.3 1094.5a7.2 7.2 0 1 0 14.4 0a7.2 7.2 0 1 0 -14.4 0zM1825.5 1133.1a7.2 7.2 0 1 0 14.4 0a7.2 7.2 0 1 0 -14.4 0zM1816.1 1172a7.2 7.2 0 1 0 14.4 0a7.2 7.2 0 1 0 -14.4 0zM1807.5 1208a7.2 7.2 0 1 0 14.4 0a7.2 7.2 0 1 0 -14.4 0zM1798.1 1245.8a7.2 7.2 0 1 0 14.4 0a7.2 7.2 0 1 0 -14.4 0zM1788.7 1283.2a7.2 7.2 0 1 0 14.4 0a7.2 7.2 0 1 0 -14.4 0zM1779.8 1318.4a7.2 7.2 0 1 0 14.4 0a7.2 7.2 0 1 0 -14.4 0z" fill="#ff0000"/>
</g>
<g clip-path="url(#clipB)">
<polyline points="1593.2,786 1558.2,875 1512.2,990 1466.6,1101.5 1421,1209.7 1376.5,1316 1360.4,1350" fill="none" stroke="#0000ff" stroke-width="1.5"/>
<path d="M1558.2 865.5L1566.5 880.5L1550 880.5zM1512.2 980.5L1520.5 995.5L1504 995.5zM1466.6 1092L1474.8 1107L1458.3 1107zM1421 1200.2L1429.2 1215.2L1412.8 1215.2zM1376.5 1306.5L1384.8 1321.5L1368.2 1321.5z" fill="#0000ff"/>
</g>
<g clip-path="url(#clipB)">
<polyline points="1985.4,786 1970.3,822 1924,937.5 1878,1052 1833.4,1177 1787,1297.5 1767.6,1350" fill="none" stroke="#0000ff" stroke-width="1.5"/>
<path d="M1970.3 812.5L1978.5 827.5L1962 827.5zM1924 928L1932.2 943L1915.8 943zM1878 1042.5L1886.2 1057.5L1869.8 1057.5zM1833.4 1167.5L1841.7 1182.5L1825.2 1182.5zM1787 1288L1795.2 1303L1778.8 1303z" fill="#0000ff"/>
</g>
<line x1="1329.2" y1="788.1" x2="1329.2" y2="1349.1" stroke="#1c1c1c" stroke-width="2.2"/>
<line x1="2062.3" y1="788.1" x2="2062.3" y2="1355.1" stroke="#1c1c1c" stroke-width="2.2"/>
<line x1="1328.2" y1="789.1" x2="2063.3" y2="789.1" stroke="#1c1c1c" stroke-width="2.2"/>
<line x1="1328.2" y1="1348.1" x2="2063.3" y2="1348.1" stroke="#111" stroke-width="2.6"/>
<path d="M1420.2 1348.1L1420.2 1359.6M1557.7 1348.1L1557.7 1359.6M1832.7 1348.1L1832.7 1359.6M1970.2 1348.1L1970.2 1359.6M1318.7 926.5L1329.2 926.5M1318.7 1218.6L1329.2 1218.6" fill="none" stroke="#222" stroke-width="2.0" stroke-linecap="butt"/>
<path d="M1328.6 1348.1L1328.6 1354.6M1351.5 1348.1L1351.5 1354.6M1374.4 1348.1L1374.4 1354.6M1397.3 1348.1L1397.3 1354.6M1443.1 1348.1L1443.1 1354.6M1466 1348.1L1466 1354.6M1489 1348.1L1489 1354.6M1511.9 1348.1L1511.9 1354.6M1534.8 1348.1L1534.8 1354.6M1580.6 1348.1L1580.6 1354.6M1603.5 1348.1L1603.5 1354.6M1626.5 1348.1L1626.5 1354.6M1649.4 1348.1L1649.4 1354.6M1672.3 1348.1L1672.3 1354.6M1718.1 1348.1L1718.1 1354.6M1741 1348.1L1741 1354.6M1763.9 1348.1L1763.9 1354.6M1786.9 1348.1L1786.9 1354.6M1809.8 1348.1L1809.8 1354.6M1855.6 1348.1L1855.6 1354.6M1878.5 1348.1L1878.5 1354.6M1901.4 1348.1L1901.4 1354.6M1924.4 1348.1L1924.4 1354.6M1947.3 1348.1L1947.3 1354.6M1993.1 1348.1L1993.1 1354.6M2016 1348.1L2016 1354.6M2038.9 1348.1L2038.9 1354.6M2061.8 1348.1L2061.8 1354.6M1323.7 853.5L1329.2 853.5M1323.7 1000.1L1329.2 1000.1M1323.7 1144.6L1329.2 1144.6M1323.7 1291.1L1329.2 1291.1" fill="none" stroke="#777" stroke-width="1.8" stroke-linecap="butt"/>
<text x="1418.7" y="1389.8" font-size="33" text-anchor="middle" font-family="'Liberation Sans', sans-serif" fill="#3a3a3a">-600</text>
<text x="1556.2" y="1389.8" font-size="33" text-anchor="middle" font-family="'Liberation Sans', sans-serif" fill="#3a3a3a">-300</text>
<text x="1695.2" y="1389.8" font-size="33" text-anchor="middle" font-family="'Liberation Sans', sans-serif" fill="#3a3a3a">0</text>
<text x="1832.7" y="1389.8" font-size="33" text-anchor="middle" font-family="'Liberation Sans', sans-serif" fill="#3a3a3a">300</text>
<text x="1970.2" y="1389.8" font-size="33" text-anchor="middle" font-family="'Liberation Sans', sans-serif" fill="#3a3a3a">600</text>
<text x="1694.5" y="1430.6" font-size="32.7" text-anchor="middle" font-family="'Liberation Sans', sans-serif" fill="#2a2a2a">H (Oe)</text>
<text transform="translate(1289.7 1068) rotate(-90)" font-size="35" text-anchor="middle" fill="#222" font-family="'Liberation Sans', sans-serif">M/M<tspan dy="8" font-size="36">max</tspan><tspan dy="-8"> (emu/g)</tspan></text>
<text transform="translate(1409 880.9) scale(0.93 1)" font-size="68" text-anchor="middle" fill="#0a0a0a" font-family="'Liberation Sans', sans-serif">(b)</text>
</g>
</svg>
</body></html>
